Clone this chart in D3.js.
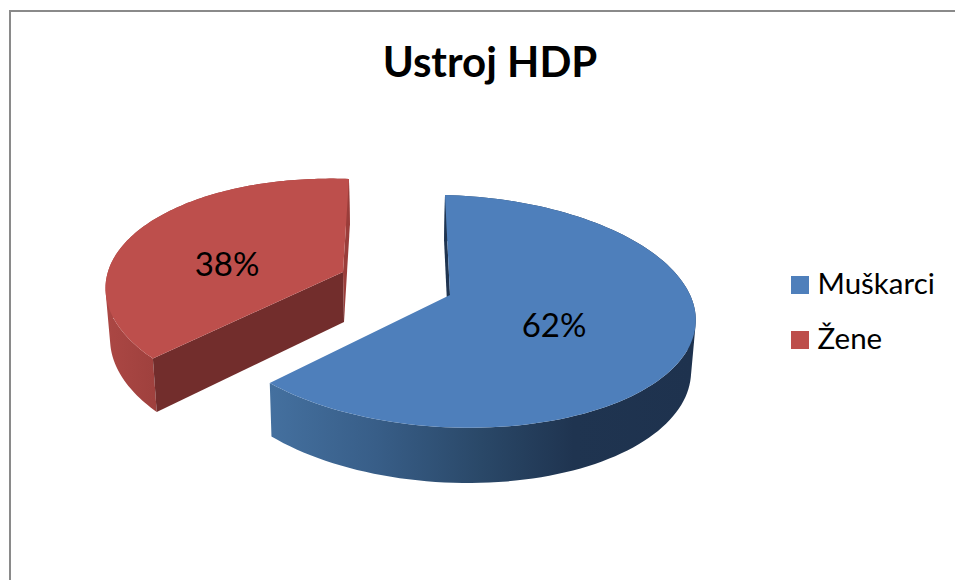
<!DOCTYPE html>
<html>
<head>
<meta charset="utf-8">
<script src="https://cdn.jsdelivr.net/npm/d3@7"></script>
<style>
  html, body { margin: 0; padding: 0; background: #fff; }
  text { font-family: Lato, "Open Sans", sans-serif; fill: #000; }
</style>
</head>
<body>
<div id="chart"></div>
<script>
const categories = ["Muškarci", "Žene"];
const shares = [62, 38];
const chartTitle = "Ustroj HDP";

const width = 955, height = 580;

// colours per slice: top face, inner wall
const topColor = ["#4e7fbb", "#bd4f4c"];
const wallColor = ["#1f3450", "#722d2c"];
const farWallColor = ["#1f3450", "#9a3d3a"];

// perspective view of each exploded slice (apex + homography terms)
const views = [
    {ax: 450, ay: 295, A: 242.5, B: 114, S: -5.7, T: -6, k: 0.14, m: 0, bx: -1},
    {ax: 343, ay: 272, A: 231.7, B: 110.7, S: 7.1, T: -9, k: 0.19, m: 0, bx: 1}
];
const depth = 50;

// where the slice labels sit
const labelPos = [[554, 337], [227, 276]];

function project(v, angle, r, bottom) {
    const X = r * Math.sin(angle), Y = r * Math.cos(angle);
    const w = 1 + v.k * Y + v.m * X;
    const dx = (v.A * X + v.S * Y) / w;
    const dy = -(v.B * Y + v.T * X) / w;
    if (bottom) return [v.ax + v.bx + dx * 0.985, v.ay + dy * 1.04 + depth];
    return [v.ax + dx, v.ay + dy];
}

const arcs = d3.pie().sort(null)(shares);
const line = d3.line();

function arcPoints(v, d, bottom) {
    const n = 120;
    return d3.range(n + 1).map(i => {
        const a = d.startAngle + (d.endAngle - d.startAngle) * i / n;
        return project(v, a, 1, bottom);
    });
}

const svg = d3.select("#chart").append("svg")
    .attr("width", width)
    .attr("height", height)
    .style("display", "block");

// chart frame (runs off the right and bottom edge of the picture)
svg.append("rect")
    .attr("x", 10).attr("y", 11)
    .attr("width", width + 20).attr("height", height + 20)
    .attr("fill", "#fff")
    .attr("stroke", "#8a8a8a")
    .attr("stroke-width", 2);

// side gradients
const defs = svg.append("defs");
const sideGrad = [
    {id: "sideBlue", x1: 270, x2: 692, stops: [[0, "#44709f"], [0.25, "#385e88"], [0.5, "#2a4868"], [0.72, "#1f3450"], [1, "#1e324e"]]},
    {id: "sideRed", x1: 106, x2: 160, stops: [[0, "#ab4744"], [1, "#9e403d"]]}
];
sideGrad.forEach(g => {
    const lg = defs.append("linearGradient")
        .attr("id", g.id)
        .attr("gradientUnits", "userSpaceOnUse")
        .attr("x1", g.x1).attr("x2", g.x2)
        .attr("y1", 0).attr("y2", 0);
    g.stops.forEach(s => lg.append("stop").attr("offset", s[0]).attr("stop-color", s[1]));
});

arcs.forEach((d, i) => {
    const v = views[i];
    const g = svg.append("g").attr("class", "slice");
    const top = arcPoints(v, d, false);
    const bot = arcPoints(v, d, true);

    // outer wall, one quad per arc step. All quads wound the same way or
    // the folded ones cancel out under nonzero fill at the extremes
    const quads = d3.range(top.length - 1).map(j => {
        const q = [top[j], top[j + 1], bot[j + 1], bot[j]];
        if (d3.polygonArea(q) < 0) q.reverse();
        return line(q) + "Z";
    }).join("");
    g.append("path")
        .attr("d", quads)
        .attr("fill", "url(#" + sideGrad[i].id + ")");

    // cut walls: the one at angle 0 / 2pi is the far one, always drawn
    const farAngle = i === 0 ? d.startAngle : d.endAngle;
    g.append("path")
        .attr("d", line([project(v, 0, 0, false), project(v, farAngle, 1, false),
            project(v, farAngle, 1, true), project(v, 0, 0, true)]) + "Z")
        .attr("fill", farWallColor[i]);

    if (i === 1) {
        g.append("path")
            .attr("d", line([project(v, 0, 0, false), project(v, d.startAngle, 1, false),
                project(v, d.startAngle, 1, true), project(v, 0, 0, true)]) + "Z")
            .attr("fill", wallColor[i]);
    }

    // top face
    g.append("path")
        .attr("d", line([project(v, 0, 0, false)].concat(top)) + "Z")
        .attr("fill", topColor[i]);

    g.append("text")
        .attr("x", labelPos[i][0])
        .attr("y", labelPos[i][1])
        .attr("text-anchor", "middle")
        .style("font-size", "33px")
        .text(shares[i] + "%");
});

svg.append("text")
    .attr("x", 490).attr("y", 77)
    .attr("text-anchor", "middle")
    .style("font-size", "42px")
    .style("font-weight", "700")
    .text(chartTitle);

// legend
const legend = svg.selectAll(".legend")
    .data(categories)
    .enter().append("g")
    .attr("class", "legend")
    .attr("transform", (d, i) => "translate(791," + (276 + i * 55) + ")");

legend.append("rect")
    .attr("width", 18).attr("height", 18)
    .attr("fill", (d, i) => topColor[i]);

legend.append("text")
    .attr("x", 26.5).attr("y", 18)
    .style("font-size", "29.5px")
    .text(d => d);
</script>
</body>
</html>
